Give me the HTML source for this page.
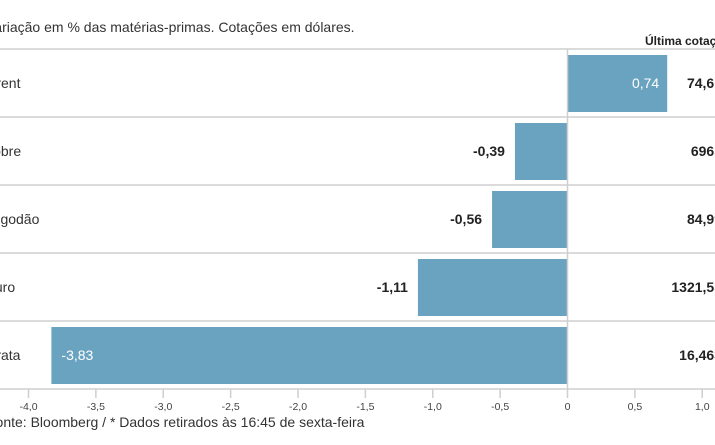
<!DOCTYPE html>
<html><head><meta charset="utf-8"><style>
body{margin:0;background:#fff;width:715px;height:445px;overflow:hidden}
svg{display:block;font-family:"Liberation Sans",sans-serif}
</style></head><body>
<svg id="c" width="715" height="445">
<text x="-14" y="32" font-size="14" fill="#333">Variação em % das matérias-primas. Cotações em dólares.</text>
<text x="645" y="45" font-size="12" font-weight="bold" fill="#222">Última cotação*</text>
<text x="-13" y="427" font-size="14" fill="#333">Fonte: Bloomberg / * Dados retirados às 16:45 de sexta-feira</text>
<g id="plot"></g>
</svg>
<script>
const categories=["Brent","Cobre","Algodão","Ouro","Prata"];
const labelOffsets=[-13,-17,-12,-16,-13];
const values=[0.74,-0.39,-0.56,-1.11,-3.83];
const lastPrices=["74,61","6965","84,99","1321,55","16,463"];
const ticks=[-4,-3.5,-3,-2.5,-2,-1.5,-1,-0.5,0,0.5,1];
const NS="http://www.w3.org/2000/svg";
const g=document.getElementById('plot');
const x0=567.5,scale=134.75,top0=49,rowH=68;
const X=v=>x0+v*scale;
const fmt=v=>v.toFixed(2).replace('.',',');
function el(t,a){const e=document.createElementNS(NS,t);for(const k in a)e.setAttribute(k,a[k]);g.appendChild(e);return e;}
for(let i=0;i<=categories.length;i++){
  const l=el('line',{x1:0,x2:715,y1:top0+i*rowH,y2:top0+i*rowH,stroke:'#cfcfcf','stroke-width':1.5});
  
  
}
categories.forEach((c,i)=>{
  const y=top0+i*rowH;
  const v=values[i];
  const t=el('text',{x:labelOffsets[i],y:y+39,'font-size':14,fill:'#333'});t.textContent=c;
  
  
  const x1=Math.min(X(0),X(v)),w=Math.abs(X(v)-X(0));
  const r=el('rect',{x:x1,y:y+6,width:w,height:57,fill:'#6aa3bf'});
  
  
  let vl;
  if(v>0){vl=el('text',{x:X(v)-8,y:y+39,'text-anchor':'end','font-size':14,fill:'#fff'});}
  else if(w>200){vl=el('text',{x:X(v)+10,y:y+39,'font-size':14,fill:'#fff'});}
  else{vl=el('text',{x:X(v)-10,y:y+39,'text-anchor':'end','font-size':14,'font-weight':'bold',fill:'#222'});}
  vl.textContent=fmt(v);
  
  
  const p=el('text',{x:722,y:y+39,'text-anchor':'end','font-size':14,'font-weight':'bold',fill:'#222'});p.textContent=lastPrices[i];
  
  
});
const z=el('line',{x1:X(0),x2:X(0),y1:top0,y2:top0+5*rowH,stroke:'#cfcfcf','stroke-width':1.5});


ticks.forEach(t=>{
  const tl=el('line',{x1:X(t),x2:X(t),y1:389,y2:398,stroke:'#cfcfcf','stroke-width':1.5});
  
  
  const tx=el('text',{x:X(t),y:410,'text-anchor':'middle','font-size':10.5,fill:'#444'});
  tx.textContent=t===0?'0':t.toFixed(1).replace('.',',');
  
  
});
</script>
</body></html>
